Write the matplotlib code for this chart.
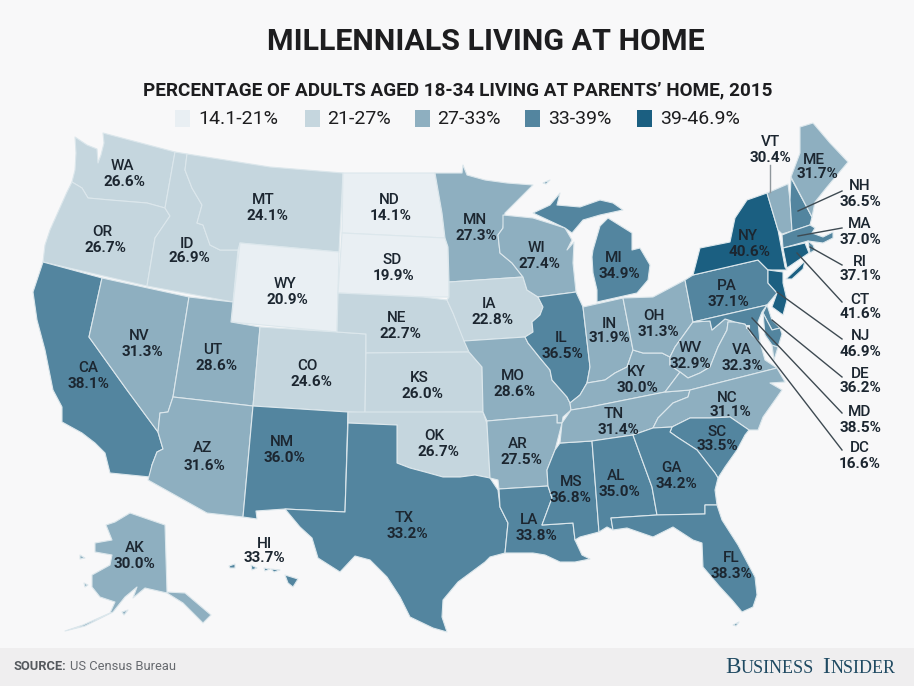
import matplotlib
matplotlib.use("Agg")
import matplotlib.pyplot as plt
from matplotlib.patches import Polygon, Rectangle

# ---------- data ----------
STATES = ["WA","OR","CA","NV","ID","MT","WY","UT","AZ","CO","NM","ND","SD","NE","KS","OK","TX",
          "MN","IA","MO","AR","LA","WI","IL","MS","MI","IN","KY","TN","AL","OH","WV","VA","NC",
          "SC","GA","FL","PA","NY","VT","NH","ME","MA","RI","CT","NJ","DE","MD","DC","AK","HI"]
VALUES = [26.6,26.7,38.1,31.3,26.9,24.1,20.9,28.6,31.6,24.6,36.0,14.1,19.9,22.7,26.0,26.7,33.2,
          27.3,22.8,28.6,27.5,33.8,27.4,36.5,36.8,34.9,31.9,30.0,31.4,35.0,31.3,32.9,32.3,31.1,
          33.5,34.2,38.3,37.1,40.6,30.4,36.5,31.7,37.0,37.1,41.6,46.9,36.2,38.5,16.6,30.0,33.7]
BIN_EDGES = [21, 27, 33, 39]
BIN_LABELS = ["14.1-21%", "21-27%", "27-33%", "33-39%", "39-46.9%"]
BIN_COLORS = ["#e9eff3", "#c5d6de", "#8eafc0", "#53859f", "#1b5f81"]

SHAPES = {
 "WA": [[(75,137),(87,145),(97,149),(98,163),(101,155),(104,143),(103,133),(175,152),(165,208),(147,203),(110,200),(88,198),(82,188),(72,182),(75,170),(76,153)]],
 "OR": [[(72,182),(82,188),(88,198),(110,200),(147,203),(165,208),(170,216),(155,238),(147,286),(43,262),(45,245),(50,230),(67,192)]],
 "CA": [[(43,262),(102,278),(89,337),(127,390),(158,432),(163,449),(157,452),(152,465),(150,477),(110,473),(105,453),(95,443),(82,433),(62,422),(62,407),(53,390),(50,375),(45,350),(37,320),(33,292)]],
 "NV": [[(102,278),(189,297),(173,397),(168,412),(160,413),(158,432),(127,390),(89,337)]],
 "ID": [[(175,152),(187,154),(185,170),(192,188),(202,205),(197,223),(203,225),(210,245),(220,250),(238,250),(233,302),(147,286),(155,238),(170,216),(165,208)]],
 "MT": [[(187,154),(270,167),(343,173),(339,252),(240,243),(238,250),(220,250),(210,245),(203,225),(197,223),(202,205),(192,188),(185,170)]],
 "WY": [[(240,243),(339,252),(337,332),(231,322)]],
 "UT": [[(189,297),(233,302),(231,322),(260,327),(253,406),(173,397)]],
 "AZ": [[(173,397),(253,406),(243,517),(207,513),(148,480),(152,465),(157,452),(163,449),(158,432),(160,413),(168,412)]],
 "CO": [[(260,327),(337,332),(366,334),(365,413),(253,406)]],
 "NM": [[(253,406),(348,412),(345,512),(285,509),(256,511),(257,519),(243,517)]],
 "ND": [[(343,173),(435,173),(442,213),(445,238),(342,233)]],
 "SD": [[(342,233),(445,238),(448,247),(449,297),(427,297),(338,293)]],
 "NE": [[(338,293),(423,297),(447,300),(453,313),(465,342),(469,352),(366,353),(366,334),(337,332)]],
 "KS": [[(366,353),(469,352),(482,367),(483,412),(365,413)]],
 "OK": [[(348,412),(483,412),(487,424),(490,478),(475,475),(460,477),(443,477),(425,472),(410,468),(397,463),(397,425),(348,423)]],
 "TX": [[(348,423),(397,425),(397,463),(410,468),(425,472),(443,477),(460,477),(475,475),(490,478),(498,490),(500,507),(508,523),(505,553),(490,557),(485,562),(458,582),(443,600),(442,617),(447,632),(433,628),(410,617),(400,597),(387,577),(370,560),(355,556),(340,572),(318,558),(312,538),(300,527),(285,509),(345,512)]],
 "MN": [[(435,173),(462,173),(463,165),(467,175),(485,180),(507,183),(533,185),(505,213),(503,228),(498,235),(500,253),(512,263),(523,277),(449,282),(448,247),(445,238),(442,213)]],
 "IA": [[(449,282),(523,277),(527,290),(538,297),(543,307),(540,315),(532,322),(533,332),(525,337),(464,341),(453,313),(447,300),(449,297)]],
 "MO": [[(464,341),(525,337),(528,343),(540,358),(550,370),(552,380),(567,397),(570,403),(571,410),(563,417),(562,423),(557,423),(557,415),(487,421),(483,412),(482,367),(469,352)]],
 "AR": [[(487,421),(557,415),(557,423),(562,423),(555,450),(547,470),(548,486),(499,489),(498,480),(490,478),(487,424)]],
 "LA": [[(499,489),(548,486),(552,498),(542,525),(573,523),(575,540),(582,555),(590,559),(575,562),(560,562),(545,555),(533,553),(505,553),(508,523),(500,507)]],
 "MS": [[(560,443),(592,441),(599,532),(580,537),(575,540),(573,523),(542,525),(552,498),(548,486),(547,470),(555,450)]],
 "AL": [[(592,441),(633,435),(652,487),(657,515),(611,518),(613,530),(607,527),(599,532)]],
 "GA": [[(633,435),(653,428),(672,427),(670,432),(677,437),(697,450),(715,473),(718,478),(715,490),(717,505),(705,505),(705,514),(657,515),(652,487)]],
 "FL": [[(611,518),(657,515),(705,514),(705,505),(717,505),(722,520),(738,545),(755,577),(757,595),(753,607),(742,612),(732,600),(720,587),(703,567),(702,543),(693,540),(673,527),(653,537),(627,528),(613,530)],
        [(733,625),(739,622),(736,626)]],
 "SC": [[(670,432),(672,427),(690,418),(710,418),(730,417),(749,430),(745,435),(737,450),(725,467),(718,478),(715,473),(697,450),(677,437)]],
 "NC": [[(690,390),(777,368),(785,382),(770,383),(782,390),(775,400),(763,417),(758,430),(749,430),(730,417),(710,418),(690,418),(672,427),(653,428),(658,418),(673,403),(688,397)]],
 "TN": [[(562,423),(571,410),(590,407),(665,392),(690,390),(688,397),(673,403),(658,418),(653,428),(633,435),(592,441),(560,443)]],
 "KY": [[(570,403),(580,395),(587,383),(605,380),(615,373),(627,367),(633,350),(643,353),(662,353),(670,357),(670,365),(680,372),(665,392),(590,407),(571,410)]],
 "VA": [[(665,392),(680,372),(688,378),(700,373),(710,367),(718,347),(727,330),(728,322),(735,322),(745,324),(752,335),(760,342),(765,360),(777,368),(690,390)],
        [(772,345),(778,347),(774,360)]],
 "WV": [[(693,322),(710,321),(712,330),(725,319),(735,322),(728,322),(727,330),(718,347),(710,367),(700,373),(688,378),(680,372),(670,365),(670,357),(675,347)]],
 "OH": [[(623,298),(653,297),(685,280),(693,322),(675,347),(670,357),(662,353),(643,353),(633,350)]],
 "IN": [[(583,307),(623,298),(633,350),(627,367),(615,373),(605,380),(587,383),(590,367)]],
 "IL": [[(538,297),(576,292),(583,307),(590,367),(587,383),(580,395),(570,403),(567,397),(552,380),(550,370),(540,358),(528,343),(525,337),(533,332),(532,322),(540,315),(543,307)]],
 "WI": [[(503,215),(533,218),(565,228),(572,240),(567,250),(574,242),(573,263),(576,292),(538,297),(527,290),(523,277),(512,263),(500,253),(498,235),(503,228)]],
 "MI": [[(533,213),(550,205),(560,193),(557,205),(580,207),(600,200),(613,203),(623,210),(600,215),(583,220),(572,233),(565,228)],
        [(593,250),(600,226),(608,218),(632,233),(632,250),(640,248),(650,265),(648,280),(637,293),(597,302),(597,290),(593,273),(592,257)],
        [(543,183),(550,180),(546,184)]],
 "PA": [[(685,280),(693,275),(758,260),(768,270),(768,283),(777,293),(767,305),(693,322)]],
 "NY": [[(693,275),(700,248),(730,242),(735,218),(747,200),(767,193),(778,230),(785,267),(787,270),(768,270),(758,260)],
        [(786,279),(805,261),(803,269),(792,279)]],
 "VT": [[(767,193),(788,184),(790,200),(792,231),(782,234),(778,230)]],
 "NH": [[(791,178),(812,217),(810,225),(792,231),(790,200)]],
 "ME": [[(791,177),(800,153),(800,127),(813,123),(830,143),(848,162),(827,187),(815,202),(812,217)]],
 "MA": [[(782,235),(792,231),(810,225),(815,228),(812,233),(823,237),(833,232),(833,238),(823,243),(808,241),(783,248)]],
 "CT": [[(783,248),(805,243),(809,253),(787,268)]],
 "RI": [[(808,241),(813,245),(815,250),(810,253)]],
 "NJ": [[(768,270),(783,272),(783,283),(787,300),(783,315),(772,307),(777,293),(768,283)]],
 "DE": [[(767,305),(772,320),(780,328),(772,330),(763,313)]],
 "MD": [[(693,322),(767,305),(762,312),(758,322),(760,342),(752,335),(745,324),(735,322),(725,319),(712,330),(710,321)],
        [(763,313),(772,330),(780,328),(782,334),(778,347),(772,345),(765,335)]],
 "DC": [[(746,325),(749,325),(749,328),(746,328)]],
 "AK": [[(165,525),(130,513),(115,522),(106,525),(112,540),(95,543),(95,552),(112,555),(110,565),(92,575),(92,587),(100,597),(115,602),(110,613),(83,625),(65,631),(85,626),(113,612),(125,597),(137,587),(133,598),(145,588),(167,593),(183,603),(203,623),(211,615),(185,593),(167,592)],
        [(80,555),(85,558),(80,559)],[(84,583),(88,585),(85,587)],[(122,612),(128,610),(124,615)]],
 "HI": [[(285,575),(298,579),(293,587),(288,583)],[(229,566),(235,564),(235,568),(230,568)],[(251,565),(257,568),(252,570)],[(264,568),(270,569),(265,571)],[(271,569),(280,570),(274,572)]],
}

# label anchors: abbreviation line, value line
LABEL_AT = {
 "WA":((122,164),(124,180)),"OR":((102,231),(105,247)),"CA":((88,367),(89,383)),"NV":((139,334),(142,351)),
 "ID":((187,242),(189,257)),"MT":((263,198),(267,214)),"WY":((285,282),(287,298)),"UT":((213,348),(217,364)),
 "AZ":((203,447),(204,464)),"CO":((307,364),(311,380)),"NM":((282,440),(284,456)),"ND":((389,198),(391,214)),
 "SD":((392,258),(394,274)),"NE":((397,316),(400,332)),"KS":((419,377),(422,393)),"OK":((434,434),(438,451)),
 "TX":((404,517),(407,532)),"MN":((475,219),(476,234)),"IA":((489,302),(493,318)),"MO":((513,374),(515,391)),
 "AR":((518,443),(521,459)),"LA":((529,519),(536,535)),"WI":((537,246),(539,262)),"IL":((561,336),(562,352)),
 "MS":((571,481),(571,497)),"MI":((614,257),(619,273)),"IN":((609,322),(609,337)),"KY":((636,371),(637,386)),
 "TN":((614,413),(618,428)),"AL":((616,474),(619,490)),"OH":((654,314),(658,330)),"WV":((690,346),(690,362)),
 "VA":((742,349),(742,365)),"NC":((727,396),(730,411)),"SC":((717,430),(717,445)),"GA":((672,467),(676,483)),
 "FL":((731,557),(731,572)),"PA":((727,285),(728,300)),"NY":((748,235),(749,251)),"VT":((770,141),(770,156)),
 "ME":((814,158),(817,173)),"NH":((860,185),(860,201)),"MA":((860,223),(860,238)),"RI":((860,260),(860,275)),
 "CT":((860,298),(860,313)),"NJ":((860,335),(860,350)),"DE":((860,372),(860,387)),"MD":((860,410),(860,426)),
 "DC":((860,447),(860,463)),"AK":((135,547),(134,562)),"HI":((264,542),(264,557)),
}
LEADERS = {"VT":((770,165),(770,192)),"NH":((842,191),(798,211)),"MA":((842,228),(798,236)),"RI":((842,265),(810,247)),
           "CT":((842,302),(797,253)),"NJ":((842,339),(777,292)),"DE":((842,377),(772,320)),"MD":((842,413),(752,318)),
           "DC":((842,450),(748,328))}
LEGEND_SWATCH_X = [175, 305, 415, 525, 637]
LEGEND_TEXT_X = [198, 327, 437, 548, 660]

BG = "#f8f8f9"
FONT = "Roboto"
INK = "#1c2630"

def shade(v):
    return BIN_COLORS[sum(v >= e for e in BIN_EDGES)]

fig = plt.figure(figsize=(9.14, 6.86), dpi=100, facecolor=BG)
ax = fig.add_axes([0, 0, 1, 1])
ax.set_xlim(0, 914); ax.set_ylim(686, 0); ax.axis("off")

ax.add_patch(Rectangle((0, 648), 914, 38, fc="#efeeef", ec="none", zorder=0))

for st, v in zip(STATES, VALUES):
    for ring in SHAPES[st]:
        ax.add_patch(Polygon(ring, closed=True, fc=shade(v), ec="#dce7ec", lw=0.8, joinstyle="round", zorder=2))

for st, (a, b) in LEADERS.items():
    ax.plot([a[0], b[0]], [a[1], b[1]], color="#8f979c" if st == "VT" else "#3e4a52", lw=1.0, zorder=3)

for st, v in zip(STATES, VALUES):
    (x1, y1), (x2, y2) = LABEL_AT[st]
    ax.text(x1, y1 + 1.5, st, ha="center", va="center", family=FONT, weight="medium", fontsize=11, color=INK, zorder=4)
    ax.text(x2, y2 + 1.5, f"{v:.1f}%", ha="center", va="center", family=FONT, weight="bold", fontsize=11, color=INK, zorder=4)

ax.text(485.5, 42, "MILLENNIALS LIVING AT HOME", ha="center", va="center", family=FONT, weight="bold", fontsize=21.9, color="#1d1d1f")
ax.text(457.5, 90, "PERCENTAGE OF ADULTS AGED 18-34 LIVING AT PARENTS\u2019 HOME, 2015", ha="center", va="center",
        family=FONT, weight="bold", fontsize=13.6, color="#1d1d1f")
for sx, tx, lab, col in zip(LEGEND_SWATCH_X, LEGEND_TEXT_X, BIN_LABELS, BIN_COLORS):
    ax.add_patch(Rectangle((sx, 110), 15, 17, fc=col, ec="none"))
    ax.text(tx, 119.5, lab, ha="left", va="center", family=FONT, fontsize=14, color="#1d1d1f")

t1 = ax.text(13, 667, "SOURCE:", ha="left", va="center", family=FONT, weight="bold", fontsize=9.3, color="#55595e")
fig.canvas.draw()
bb = t1.get_window_extent()
ax.text(bb.x1 + 4, 667, "US Census Bureau", ha="left", va="center", family=FONT, fontsize=9.3, color="#66696e")

# small caps wordmark
for start, pieces in [(725, [("B", 16.7), ("USINESS", 13)]), (822, [("I", 16.7), ("NSIDER", 13)])]:
    x = start
    for piece, size in pieces:
        t = ax.text(x, 673, piece, ha="left", va="baseline", family="Liberation Serif", fontsize=size, color="#1f4a62")
        fig.canvas.draw()
        x += t.get_window_extent().width + 0.5

fig.savefig("out.png", dpi=100, facecolor=BG)
